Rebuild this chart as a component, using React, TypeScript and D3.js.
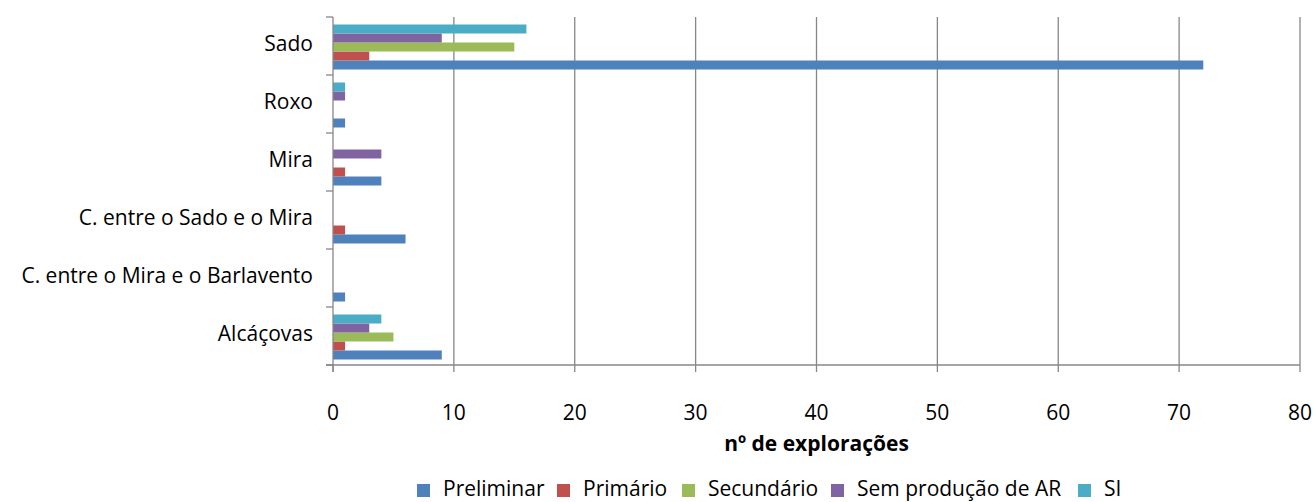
import React from "react";
import * as d3 from "d3";

const categories = [
  "Sado",
  "Roxo",
  "Mira",
  "C. entre o Sado e o Mira",
  "C. entre o Mira e o Barlavento",
  "Alcáçovas",
];
const seriesNames = ["Preliminar", "Primário", "Secundário", "Sem produção de AR", "SI"];
const seriesColors = ["#4F81BD", "#C0504D", "#9BBB59", "#8064A2", "#4BACC6"];
const preliminar = [72, 1, 4, 6, 1, 9];
const primario = [3, 0, 1, 1, 0, 1];
const secundario = [15, 0, 0, 0, 0, 5];
const semProducao = [9, 1, 4, 0, 0, 3];
const si = [16, 1, 0, 0, 0, 4];
const xTicks = [0, 10, 20, 30, 40, 50, 60, 70, 80];
const axisTitle = "nº de explorações";

const W = 1313;
const H = 502;
const margin = { left: 333, right: 13, top: 17, bottom: 137 };
const FONT = "'Open Sans', Lato, sans-serif";
const FS = 21;

export default function App() {
  const series = [preliminar, primario, secundario, semProducao, si];
  const x = d3.scaleLinear().domain([0, 80]).range([margin.left, W - margin.right]);
  const y = d3
    .scaleBand<string>()
    .domain(categories)
    .range([margin.top, H - margin.bottom])
    .paddingInner(0)
    .paddingOuter(0);
  const barH = 9;
  const groupH = barH * seriesNames.length;
  // series stacked bottom-up inside each band: Preliminar lowest, SI highest
  const barY = (cat: string, k: number) => {
    const b = y(cat)!;
    const start = b + (y.bandwidth() - groupH) / 2 + 1;
    return start + (seriesNames.length - 1 - k) * barH;
  };
  const y0 = margin.top;
  const y1 = H - margin.bottom;
  const bandEdges = [...categories.map((c) => y(c)!), y1];

  // legend entries laid out left to right
  const legendX = [417, 557, 682, 831, 1078];

  return (
    <svg width={W} height={H} style={{ position: "absolute", left: 0, top: 0, background: "#fff" }}>
      {/* vertical gridlines */}
      {xTicks.slice(1).map((t) => (
        <line key={"g" + t} x1={x(t)} x2={x(t)} y1={y0} y2={y1} stroke="#878787" strokeWidth={1.3} />
      ))}
      {/* bars */}
      {categories.map((c, ci) =>
        series.map((vals, k) =>
          vals[ci] > 0 ? (
            <rect
              key={c + k}
              x={x(0)}
              y={barY(c, k)}
              width={x(vals[ci]) - x(0)}
              height={barH}
              fill={seriesColors[k]}
            />
          ) : null
        )
      )}
      {/* y axis */}
      <line x1={x(0)} x2={x(0)} y1={y0} y2={y1 + 7} stroke="#878787" strokeWidth={1.3} />
      {bandEdges.map((e, i) => (
        <line key={"yt" + i} x1={x(0) - 7} x2={x(0)} y1={e} y2={e} stroke="#878787" strokeWidth={1.3} />
      ))}
      {/* x axis */}
      <line x1={x(0) - 7} x2={x(80)} y1={y1} y2={y1} stroke="#878787" strokeWidth={1.3} />
      {xTicks.map((t) => (
        <line key={"xt" + t} x1={x(t)} x2={x(t)} y1={y1} y2={y1 + 7} stroke="#878787" strokeWidth={1.3} />
      ))}
      {xTicks.map((t) => (
        <text key={"xl" + t} x={x(t)} y={420} textAnchor="middle" fontFamily={FONT} fontSize={FS} fill="#000">
          {t}
        </text>
      ))}
      {categories.map((c) => (
        <text
          key={"cl" + c}
          x={313}
          y={y(c)! + y.bandwidth() / 2 + 5}
          textAnchor="end"
          fontFamily={FONT}
          fontSize={FS}
          fill="#000"
        >
          {c}
        </text>
      ))}
      <text
        x={(x(0) + x(80)) / 2}
        y={451}
        textAnchor="middle"
        fontFamily={FONT}
        fontSize={FS}
        fontWeight="bold"
        fill="#000"
      >
        {axisTitle}
      </text>
      {/* legend */}
      {seriesNames.map((n, i) => (
        <g key={"lg" + n}>
          <rect x={legendX[i]} y={484} width={13} height={13} fill={seriesColors[i]} />
          <text x={legendX[i] + 26} y={496} fontFamily={FONT} fontSize={FS} fill="#000">
            {n}
          </text>
        </g>
      ))}
    </svg>
  );
}
